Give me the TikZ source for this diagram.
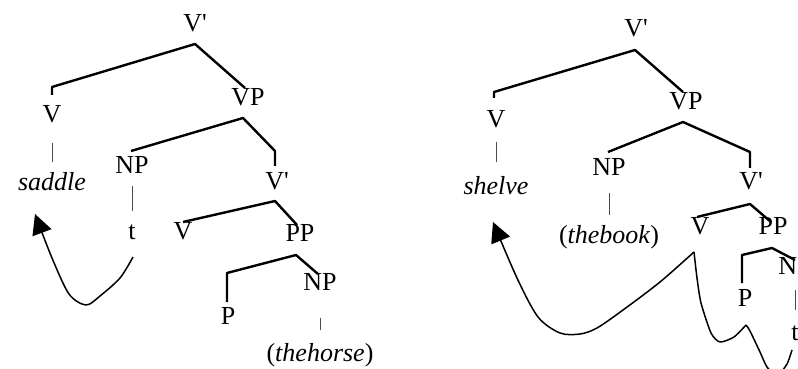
\documentclass[tikz,border=0pt]{standalone}
\usepackage{fontspec}
\newfontfamily\treefont{Liberation Serif}
\usetikzlibrary{arrows.meta}
\tikzset{
  lab/.style={font=\treefont\fontsize{13pt}{15pt}\selectfont, inner sep=0pt},
  branch/.style={line width=1.2pt, line join=round},
  bar/.style={line width=.5pt, black!70},
  move/.style={line width=.75pt, line join=round},
  tip/.style={-{Triangle[length=10pt,width=10pt]}}
}
\begin{document}
\begin{tikzpicture}[x=.5pt,y=-.5pt]
\useasboundingbox (0,0) rectangle (798,369);
\clip (0,0) rectangle (798,369);
% saddle
\node[lab] (lTop) at (195,23) {V'};
\node[lab] (lV) at (52,114) {V};
\node[lab] (lVP) at (248,97) {VP};
\node[lab] (lSaddle) at (52,182) {\itshape saddle};
\node[lab] (lNP) at (132,165) {NP};
\node[lab] (lVb) at (277,181) {V'};
\node[lab] (lTrace) at (132,232) {t};
\node[lab] (lVerb) at (183,231) {V};
\node[lab] (lPP) at (300,233) {PP};
\node[lab] (lP) at (228,316) {P};
\node[lab] (lObj) at (320,282) {NP};
\node[lab] (lHorse) at (320,355) {(\textit{thehorse})};
\coordinate (lTopJ) at (195,44); \coordinate (lVK) at (52,95); \coordinate (lVPK) at (245,88);
\coordinate (lVPJ) at (243,118); \coordinate (lNPK) at (131,151); \coordinate (lVbK) at (275,166);
\coordinate (lVbJ) at (275,201); \coordinate (lVerbK) at (183,222); \coordinate (lPPK) at (297,225);
\coordinate (lPPJ) at (296,255); \coordinate (lPK) at (227,302); \coordinate (lObjK) at (318,274);
\draw[branch] (lVK) -- ++(0,-8) -- (lTopJ) -- (lVPK);
\draw[branch] (lNPK) -- (lVPJ) -- (lVbK |- lNPK) -- (lVbK);
\draw[branch] (lVerbK) -- (lVbJ) -- (lPPK);
\draw[branch] (lPK) -- ++(0,-29) -- (lPPJ) -- (lObjK);
\draw[bar,shorten <=10pt,shorten >=5pt] (lV) -- (lSaddle);
\draw[bar,shorten <=6pt,shorten >=6.5pt] (lNP) -- (lTrace);
\draw[bar,shorten <=13.5pt,shorten >=6.5pt] (lObj) -- (lHorse);
\coordinate (lMove) at (133,257); \coordinate (lLand) at (35,214);
\draw[move,tip] plot[smooth,tension=.5] coordinates {(lMove) (120,278) (100,296) (86,305) (69,294) (52,258) (lLand)};
% shelve
\node[lab] (rTop) at (636,28) {V'};
\node[lab] (rV) at (496,119) {V};
\node[lab] (rVP) at (686,101) {VP};
\node[lab] (rShelve) at (496,186) {\itshape shelve};
\node[lab] (rNP) at (609,167) {NP};
\node[lab] (rVb) at (751,181) {V'};
\node[lab] (rBook) at (609,237) {(\textit{thebook})};
\node[lab] (rVerb) at (700,226) {V};
\node[lab] (rPP) at (773,226) {PP};
\node[lab] (rP) at (745,298) {P};
\node[lab] (rObj) at (795,266) {NP};
\node[lab] (rTrace) at (795,333) {t};
\coordinate (rTopJ) at (635,50); \coordinate (rVK) at (494,98); \coordinate (rVPK) at (683,92);
\coordinate (rVPJ) at (683,122); \coordinate (rNPK) at (608,152); \coordinate (rVbK) at (750,168);
\coordinate (rVbJ) at (750,204); \coordinate (rVerbK) at (697,217); \coordinate (rPPK) at (771,222);
\coordinate (rPPJ) at (772,248); \coordinate (rPK) at (742,283); \coordinate (rObjK) at (795,260);
\draw[branch] (rVK) -- ++(0,-6) -- (rTopJ) -- (rVPK);
\draw[branch] (rNPK) -- (rVPJ) -- (rVbK |- rNPK) -- (rVbK);
\draw[branch] (rVerbK) -- (rVbJ) -- (rPPK);
\draw[branch] (rPK) -- ++(0,-28) -- (rPPJ) -- (rObjK);
\draw[bar,shorten <=7pt,shorten >=7pt] (rV) -- (rShelve);
\draw[bar,shorten <=8.5pt,shorten >=5pt] (rNP) -- (rBook);
\draw[bar,shorten <=7.5pt,shorten >=7.5pt] (rObj) -- (rTrace);
\coordinate (rMove) at (694,252); \coordinate (rLand) at (493,222); \coordinate (rUp) at (792,350);
\draw[move,tip] plot[smooth,tension=.5] coordinates {(rMove) (660,282) (623,310) (597,328) (580,334) (560,333) (538,317) (517,278) (rLand)};
\draw[move] plot[smooth,tension=.4] coordinates {(rMove) (697,278) (701,303) (711,333) (720,342) (734,337) (746,325)};
\draw[move] plot[smooth,tension=.4] coordinates {(746,325) (750,331) (760,352) (767,367) (777,376) (787,364) (rUp)};
\end{tikzpicture}
\end{document}
